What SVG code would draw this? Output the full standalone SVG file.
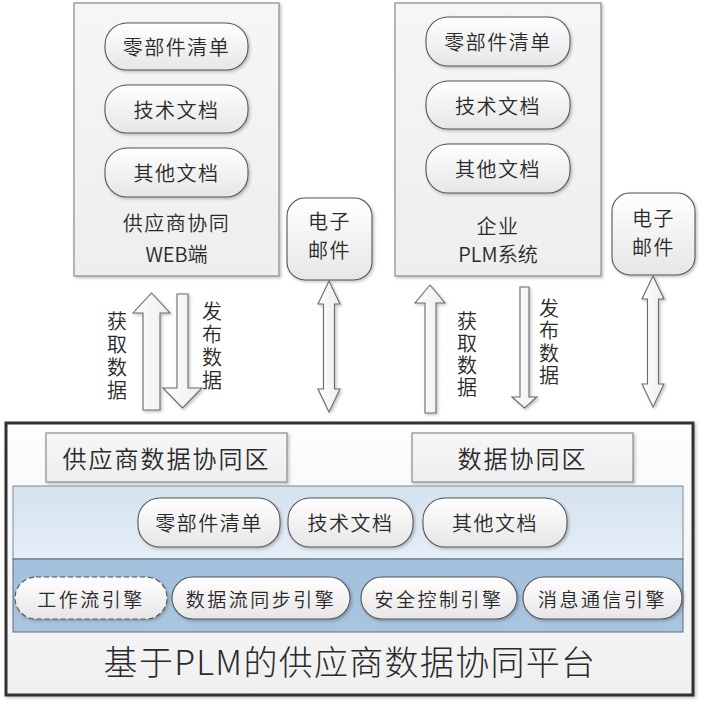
<svg xmlns="http://www.w3.org/2000/svg" width="705" height="706" viewBox="0 0 705 706">
<defs>
<linearGradient id="gPill" x1="0" y1="0" x2="0" y2="1"><stop offset="0" stop-color="#ffffff"/><stop offset="1" stop-color="#e6e6e6"/></linearGradient>
<linearGradient id="gBox" x1="0" y1="0" x2="0" y2="1"><stop offset="0" stop-color="#f6f6f6"/><stop offset="1" stop-color="#eeeeee"/></linearGradient>
<linearGradient id="gOuter" x1="0" y1="0" x2="0" y2="1"><stop offset="0" stop-color="#fdfdfd"/><stop offset="1" stop-color="#f0f0f0"/></linearGradient>
<linearGradient id="gBand1" x1="0" y1="0" x2="0" y2="1"><stop offset="0" stop-color="#d4e2ef"/><stop offset="1" stop-color="#e6eef6"/></linearGradient>
<linearGradient id="gBand2" x1="0" y1="0" x2="0" y2="1"><stop offset="0" stop-color="#a3c0dc"/><stop offset="1" stop-color="#a9c5df"/></linearGradient>
<linearGradient id="gArrow" x1="0" y1="0" x2="1" y2="0"><stop offset="0" stop-color="#ffffff"/><stop offset="1" stop-color="#ececec"/></linearGradient>
<filter id="sh" x="-10%" y="-10%" width="130%" height="130%"><feDropShadow dx="1.5" dy="1.5" stdDeviation="1.5" flood-color="#000" flood-opacity="0.25"/></filter>
</defs>
<style>
text{font-family:"Noto Sans CJK SC","Noto Sans",sans-serif;fill:#2a2a2a;text-anchor:middle;dominant-baseline:central;font-weight:350}
.box{fill:url(#gBox);stroke:#8a8a8a;stroke-width:1.2}
.pill{fill:url(#gPill);stroke:#555;stroke-width:1.1;filter:url(#sh)}
.arr{fill:url(#gArrow);stroke:#6a6a6a;stroke-width:1.1;filter:url(#sh)}
.t20{font-size:20px;letter-spacing:1.5px}
.t19{font-size:19px;letter-spacing:2.5px}
.t24{font-size:24px;letter-spacing:2px}
.tv{font-size:20px;writing-mode:vertical-rl}
</style>

<g id="web">
<rect class="box" x="74" y="3" width="205" height="273" filter="url(#sh)"/>
<rect class="pill" x="105" y="23" width="143" height="47" rx="22"/>
<text class="t20" x="176.5" y="46.5">零部件清单</text>
<rect class="pill" x="105" y="85" width="143" height="48" rx="22"/>
<text class="t20" x="176.5" y="109">技术文档</text>
<rect class="pill" x="105" y="148" width="143" height="49" rx="22"/>
<text class="t20" x="176.5" y="172.5">其他文档</text>
<text class="t20" x="176.5" y="222">供应商协同</text>
<text class="t20" x="176.5" y="253" style="letter-spacing:0">WEB端</text>
</g>

<g id="plm">
<rect class="box" x="395" y="3" width="206" height="273" filter="url(#sh)"/>
<rect class="pill" x="426" y="17" width="144" height="49" rx="22"/>
<text class="t20" x="498" y="41.5">零部件清单</text>
<rect class="pill" x="426" y="81" width="144" height="48" rx="22"/>
<text class="t20" x="498" y="105">技术文档</text>
<rect class="pill" x="426" y="144" width="144" height="49" rx="22"/>
<text class="t20" x="498" y="168.5">其他文档</text>
<text class="t20" x="498" y="225">企业</text>
<text class="t20" x="498" y="253" style="letter-spacing:0">PLM系统</text>
</g>

<g id="email1">
<rect class="pill" x="287" y="198" width="85" height="82" rx="18"/>
<text class="t20" x="329.5" y="220">电子</text>
<text class="t20" x="329.5" y="249">邮件</text>
</g>

<g id="email2">
<rect class="pill" x="612" y="193" width="83" height="82" rx="18"/>
<text class="t20" x="653.5" y="217">电子</text>
<text class="t20" x="653.5" y="246">邮件</text>
</g>

<g id="connectors">
<polygon class="arr" points="151.5,293 170,313 160,313 160,410 143,410 143,313 133,313"/>
<polygon class="arr" points="177,294 188,294 188,388 202,388 182.5,408 163,388 177,388"/>
<polygon class="arr" points="329,281 340,304 334.5,304 334.5,389 340,389 329,412 318,389 323.5,389 323.5,304 318,304"/>
<polygon class="arr" points="430,285 445,303 436,303 436,413 425,413 425,303 415,303"/>
<polygon class="arr" points="520,287 529,287 529,397 537,397 524.5,408 512,397 520,397"/>
<polygon class="arr" points="653,276 664,299 658.5,299 658.5,384 664,384 653,407 642,384 647.5,384 647.5,299 642,299"/>
<text class="tv" x="117" y="357" style="letter-spacing:3px">获取数据</text>
<text class="tv" x="212" y="347" style="letter-spacing:3px">发布数据</text>
<text class="tv" x="467" y="355" style="letter-spacing:2px">获取数据</text>
<text class="tv" x="549" y="343" style="letter-spacing:2.5px">发布数据</text>
</g>

<g id="platform">
<rect x="6" y="423" width="687" height="272" fill="url(#gOuter)" stroke="#333" stroke-width="3" filter="url(#sh)"/>
<g id="supplier-zone">
<rect class="box" x="46" y="433" width="241" height="49" filter="url(#sh)"/>
<text class="t24" x="166.5" y="457.5">供应商数据协同区</text>
</g>
<g id="data-zone">
<rect class="box" x="412" y="433" width="221" height="49" filter="url(#sh)"/>
<text class="t24" x="522.5" y="457.5">数据协同区</text>
</g>
<g id="data-band">
<rect x="13" y="486" width="670" height="73" fill="url(#gBand1)" stroke="#7a8a9a" stroke-width="1"/>
<rect class="pill" x="138" y="498" width="142" height="49" rx="22"/>
<text class="t20" x="209" y="522.5">零部件清单</text>
<rect class="pill" x="288" y="498" width="125" height="49" rx="22"/>
<text class="t20" x="350.5" y="522.5">技术文档</text>
<rect class="pill" x="423" y="498" width="144" height="49" rx="22"/>
<text class="t20" x="495" y="522.5">其他文档</text>
</g>
<g id="engine-band">
<rect x="13" y="559" width="670" height="73" fill="url(#gBand2)" stroke="#5a6a7a" stroke-width="1"/>
<g id="workflow">
<rect x="15" y="577" width="152" height="42" rx="21" fill="url(#gPill)" stroke="#555" stroke-width="1.1" stroke-dasharray="5,3" filter="url(#sh)"/>
<text class="t19" x="91" y="598">工作流引擎</text>
</g>
<g id="dataflow">
<rect class="pill" x="172" y="577" width="178" height="42" rx="21"/>
<text class="t19" x="261" y="598">数据流同步引擎</text>
</g>
<g id="security">
<rect class="pill" x="361" y="577" width="156" height="42" rx="21"/>
<text class="t19" x="439" y="598">安全控制引擎</text>
</g>
<g id="message">
<rect class="pill" x="523" y="577" width="159" height="42" rx="21"/>
<text class="t19" x="602.5" y="598">消息通信引擎</text>
</g>
</g>
<text x="350" y="660" style="font-size:34px;letter-spacing:1.3px;font-weight:300">基于PLM的供应商数据协同平台</text>
</g>
</svg>
